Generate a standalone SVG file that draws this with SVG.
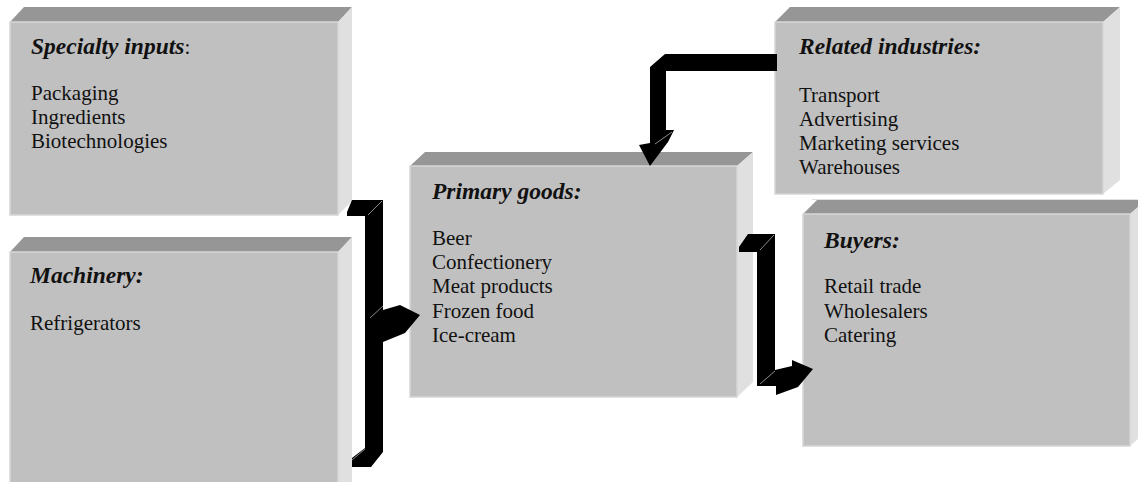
<svg xmlns="http://www.w3.org/2000/svg" width="1138" height="482" viewBox="0 0 1138 482">
<style>
.front{fill:#c0c0c0;stroke:#d6d6d6;stroke-width:1.5}
.top{fill:#969696}
.side{fill:#e0e0e0}
.t{font-family:"Liberation Serif","Times New Roman",serif;font-size:21px;fill:#111}
.h{font-weight:bold;font-style:italic;font-size:23.5px}
.arrow{fill:#000}
.hl{stroke:#8a8a8a;stroke-width:1;fill:none}
</style>
<rect width="1138" height="482" fill="#fff"/>
<g id="specialty">
<polygon class="top" points="10,22 24,7 352,7 338,22"/>
<polygon class="side" points="338,22 352,7 352,201 338,215"/>
<rect class="front" x="10" y="22" width="328" height="193"/>
<text class="t" x="31" y="54"><tspan class="h">Specialty inputs</tspan>:</text>
<text class="t" x="31" y="100">Packaging</text>
<text class="t" x="31" y="124">Ingredients</text>
<text class="t" x="31" y="148">Biotechnologies</text>
</g>
<g id="machinery">
<polygon class="top" points="10,252 24,237 352,237 338,252"/>
<polygon class="side" points="338,252 352,237 352,490 338,490"/>
<rect class="front" x="10" y="252" width="328" height="240"/>
<text class="t h" x="30" y="283">Machinery:</text>
<text class="t" x="30" y="330">Refrigerators</text>
</g>
<g id="primary">
<polygon class="top" points="410,166 425,152 753,152 737,166"/>
<polygon class="side" points="737,166 753,152 753,382 737,397"/>
<rect class="front" x="410" y="166" width="327" height="231"/>
<text class="t h" x="432" y="199">Primary goods:</text>
<text class="t" x="432" y="245">Beer</text>
<text class="t" x="432" y="269">Confectionery</text>
<text class="t" x="432" y="293">Meat products</text>
<text class="t" x="432" y="318">Frozen food</text>
<text class="t" x="432" y="342">Ice-cream</text>
</g>
<g id="related">
<polygon class="top" points="775,22 790,7 1120,7 1103,22"/>
<polygon class="side" points="1103,22 1120,7 1120,180 1103,194"/>
<rect class="front" x="775" y="22" width="328" height="172"/>
<text class="t h" x="799" y="54">Related industries:</text>
<text class="t" x="799" y="102">Transport</text>
<text class="t" x="799" y="126">Advertising</text>
<text class="t" x="799" y="150">Marketing services</text>
<text class="t" x="799" y="174">Warehouses</text>
</g>
<g id="buyers">
<polygon class="top" points="803,214 817,200 1146,200 1130,214"/>
<line x1="812" y1="199.5" x2="1138" y2="199.5" stroke="#e0e0e0" stroke-width="1"/>
<polygon class="side" points="1130,214 1146,200 1146,432 1130,446"/>
<rect class="front" x="803" y="214" width="327" height="232"/>
<text class="t h" x="824" y="248">Buyers:</text>
<text class="t" x="824" y="293">Retail trade</text>
<text class="t" x="824" y="318">Wholesalers</text>
<text class="t" x="824" y="342">Catering</text>
</g>
<g id="connectors">
<polygon class="arrow" points="352,200 383,200 383,310 400,305 420,315 405,333 383,342 383,452 371,467 352,467 352,458 365,448 365,216 347,216 347,212"/>
<line class="hl" x1="382" y1="201" x2="368" y2="215"/>
<line class="hl" x1="383" y1="306" x2="370" y2="318"/>
<line class="hl" x1="365" y1="449" x2="352" y2="460"/>
<polygon class="arrow" points="777,54 665,54 650,67 650,143 639,145 650,166 668,142 674,130 666,130 666,71 777,71"/>
<line class="hl" x1="672" y1="132" x2="655" y2="144"/>
<polygon class="arrow" points="775,234 748,234 739,247 739,252 757,252 757,386 776,386 776,395 798,387 813,369 792,360 792,366 775,370"/>
<line class="hl" x1="774" y1="235" x2="760" y2="250"/>
<line class="hl" x1="775" y1="371" x2="760" y2="384"/>
</g>
</svg>
